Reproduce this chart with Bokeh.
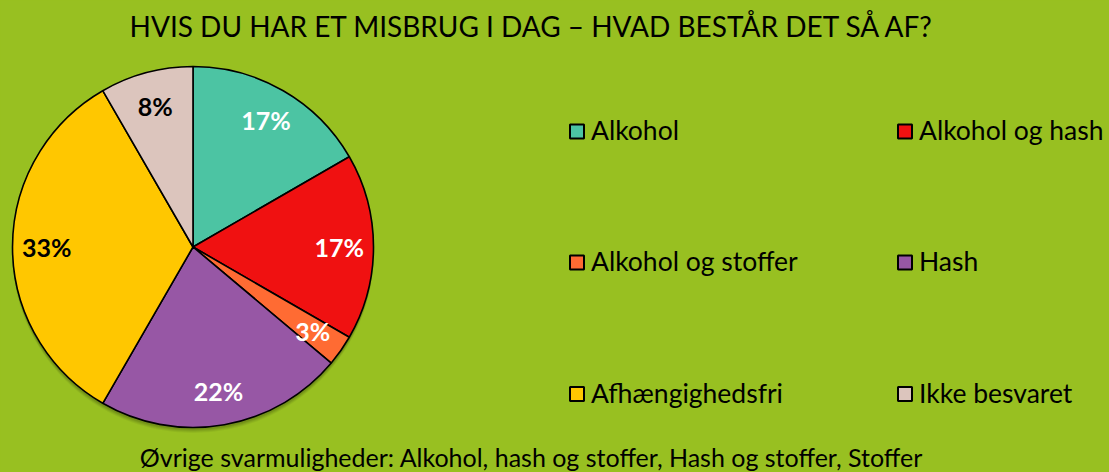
import numpy as np
from bokeh.plotting import figure
from bokeh.models import Range1d, ColumnDataSource
from bokeh.core.properties import value
from bokeh.embed import file_html
from bokeh.resources import INLINE

# ---- data ----
title = "HVIS DU HAR ET MISBRUG I DAG – HVAD BESTÅR DET SÅ AF?"
footer = "Øvrige svarmuligheder: Alkohol, hash og stoffer, Hash og stoffer, Stoffer"
categories = ["Alkohol", "Alkohol og hash", "Alkohol og stoffer", "Hash", "Afhængighedsfri", "Ikke besvaret"]
counts = [6, 6, 1, 8, 12, 3]
colors = ["#4CC4A3", "#F01111", "#FF6B33", "#9757A5", "#FFC700", "#DCC5BD"]
label_colors = ["white", "white", "white", "white", "black", "black"]

W, H = 1109, 472
BG = "#98C021"
FONT = "Lato"

p = figure(width=W, height=H, output_backend="svg", toolbar_location=None,
           x_range=Range1d(0, W), y_range=Range1d(0, H), min_border=0,
           background_fill_color=BG, border_fill_color=BG, outline_line_color=None)
p.axis.visible = False
p.grid.visible = False

def Y(img_y):
    return H - img_y

# ---- pie ----
cx, cy, r = 192.5, Y(246.5), 180.5
total = sum(counts)
frac = np.array(counts) / total
cum = np.concatenate([[0], np.cumsum(frac)])
start = np.pi / 2 - cum[:-1] * 2 * np.pi
end = np.pi / 2 - cum[1:] * 2 * np.pi
mid = (start + end) / 2
pct = [f"{round(f * 100)}%" for f in frac]

# soft shadow
for k, a in [(5, 0.05), (4, 0.06), (3, 0.07), (2, 0.08)]:
    p.circle(x=[cx], y=[cy - k], radius=r + 0.5, fill_color="black", fill_alpha=a, line_color=None)

src = ColumnDataSource(dict(start=start, end=end, color=colors, cat=categories,
                            lx=cx + 0.81 * r * np.cos(mid), ly=cy + 0.81 * r * np.sin(mid),
                            pct=pct, lc=label_colors))
p.wedge(x=cx, y=cy, radius=r, start_angle="start", end_angle="end", direction="clock",
        fill_color="color", line_color="black", line_width=1.6, source=src)
p.text(x="lx", y="ly", text="pct", text_color="lc", text_font=value(FONT), text_font_style="bold",
       text_font_size="25px", text_align="center", text_baseline="middle", source=src)

# ---- legend ----
col_x = [576.5, 904.5]
row_y = [131, 262, 393.5]
lx = [col_x[i % 2] for i in range(len(categories))]
ly = [Y(row_y[i // 2]) for i in range(len(categories))]
lsrc = ColumnDataSource(dict(x=lx, y=ly, ty=[y + 1.5 for y in ly], tx=[x + 14 for x in lx],
                             color=colors, cat=categories))
p.scatter(x="x", y="y", marker="square", size=14, fill_color="color", line_color="black",
          line_width=2, source=lsrc)
p.text(x="tx", y="ty", text="cat", text_font=value(FONT), text_font_size="26.5px", text_color="black",
       text_baseline="middle", text_align="left", source=lsrc)

# ---- title & footer ----
p.text(x=[532], y=[Y(25.5)], text=[title], text_font=value(FONT), text_font_size="28px",
       text_color="black", text_align="center", text_baseline="middle")
p.text(x=[531], y=[Y(456)], text=[footer], text_font=value(FONT), text_font_size="25px",
       text_color="black", text_align="center", text_baseline="middle")

html = file_html(p, INLINE)
html = html.replace("<head>", "<head><style>html,body{margin:0;padding:0;overflow:hidden;background:%s}</style>" % BG, 1)
open("out.html", "w").write(html)
